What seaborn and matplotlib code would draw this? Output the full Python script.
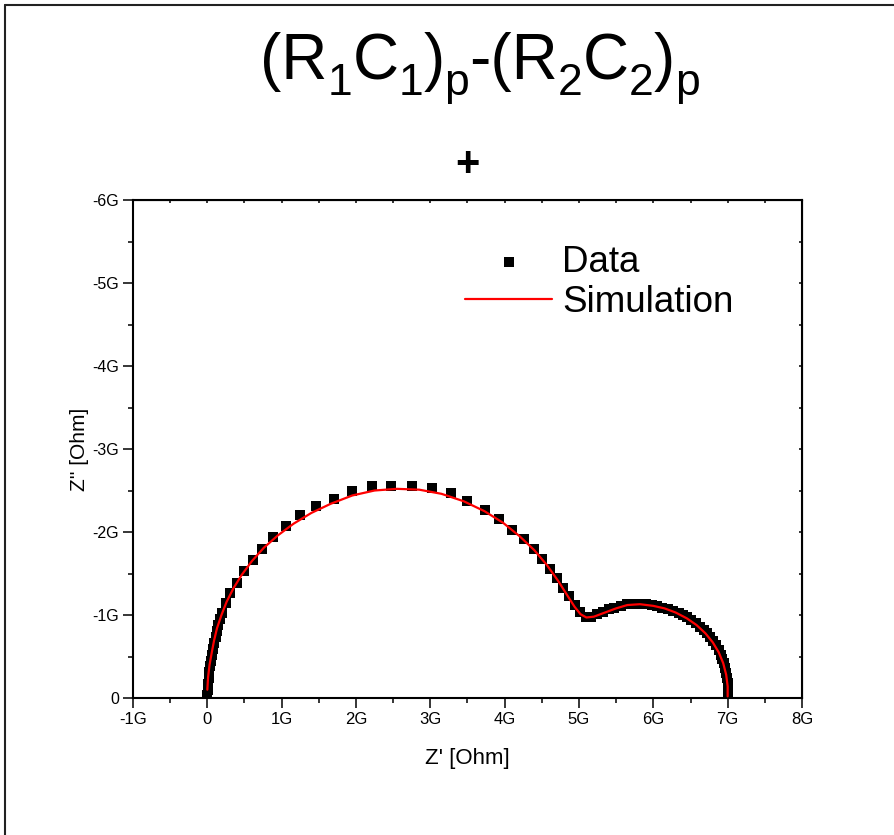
import numpy as np
import pandas as pd
import matplotlib.pyplot as plt
import matplotlib.ticker as mticker
from matplotlib.lines import Line2D
import seaborn as sns

# measured points, Z' and Z'' in GOhm
data_re = [0.00, 0.005, 0.01, 0.02, 0.025, 0.035, 0.045, 0.06, 0.07, 0.09, 0.11, 0.13,
           0.15, 0.17, 0.20, 0.25, 0.31, 0.40, 0.50, 0.61, 0.73, 0.88, 1.06, 1.24, 1.46,
           1.70, 1.95, 2.22, 2.47, 2.755, 3.02, 3.28, 3.50, 3.73, 3.93, 4.10, 4.26, 4.39,
           4.50, 4.61, 4.70, 4.79, 4.86, 4.94, 5.02, 5.09, 5.16, 5.24, 5.32, 5.40, 5.47,
           5.56, 5.65, 5.74, 5.82, 5.90, 5.98, 6.05, 6.12, 6.20, 6.27, 6.34, 6.40, 6.45,
           6.51, 6.57, 6.63, 6.68, 6.72, 6.76, 6.80, 6.84, 6.88, 6.91, 6.93, 6.95, 6.97,
           6.98, 6.99, 7.00, 7.00, 7.01, 7.01]
data_im = [-0.04, -0.10, -0.17, -0.24, -0.31, -0.38, -0.45, -0.52, -0.59, -0.66, -0.74, -0.81,
           -0.88, -0.95, -1.03, -1.15, -1.27, -1.39, -1.53, -1.66, -1.80, -1.94, -2.07, -2.20, -2.31,
           -2.40, -2.49, -2.55, -2.56, -2.56, -2.53, -2.47, -2.37, -2.27, -2.16, -2.03, -1.91, -1.79,
           -1.67, -1.55, -1.44, -1.33, -1.23, -1.12, -1.04, -0.98, -0.98, -1.01, -1.04, -1.07, -1.09,
           -1.11, -1.13, -1.13, -1.13, -1.13, -1.12, -1.11, -1.09, -1.07, -1.05, -1.02, -1.00, -0.97,
           -0.94, -0.90, -0.86, -0.82, -0.78, -0.74, -0.69, -0.64, -0.58, -0.52, -0.47, -0.42, -0.36,
           -0.30, -0.24, -0.18, -0.12, -0.06, -0.02]

# fitted curve
sim_re = [0.00, 0.01, 0.03, 0.06, 0.09, 0.13, 0.19, 0.26, 0.35, 0.46, 0.60, 0.76, 0.95,
          1.16, 1.40, 1.66, 1.95, 2.25, 2.55, 2.85, 3.15, 3.45, 3.73, 3.98, 4.20, 4.40,
          4.57, 4.72, 4.84, 4.94, 5.02, 5.10, 5.20, 5.35, 5.50, 5.65, 5.82, 6.00, 6.15,
          6.30, 6.45, 6.58, 6.70, 6.80, 6.88, 6.94, 6.98, 7.00, 7.00]
sim_im = [-0.10, -0.25, -0.40, -0.55, -0.69, -0.84, -1.00, -1.16, -1.32, -1.48, -1.65, -1.81, -1.96,
          -2.10, -2.23, -2.34, -2.44, -2.50, -2.52, -2.51, -2.46, -2.37, -2.25, -2.11, -1.95, -1.78,
          -1.60, -1.41, -1.24, -1.10, -1.01, -0.97, -0.98, -1.03, -1.08, -1.12, -1.13, -1.11, -1.08,
          -1.03, -0.96, -0.88, -0.78, -0.67, -0.55, -0.42, -0.28, -0.14, -0.02]

# title pieces: (text, subscript?)
title_parts = [("(R", False), ("1", True), ("C", False), ("1", True), (")", False), ("p", True),
               ("-(R", False), ("2", True), ("C", False), ("2", True), (")", False), ("p", True)]

df = pd.DataFrame({'re': data_re, 'im': data_im})
sim = pd.DataFrame({'re': sim_re, 'im': sim_im})

sns.set_style("ticks")
plt.rcParams['font.family'] = ['Liberation Sans', 'DejaVu Sans']
for k in ['text.color', 'axes.labelcolor', 'xtick.color', 'ytick.color', 'axes.edgecolor']:
    plt.rcParams[k] = 'black'

W, H = 895, 835
fig = plt.figure(figsize=(W/100, H/100), dpi=100)
ax = fig.add_axes([133/W, 1-698/H, 669/W, 498/H])

sns.scatterplot(data=df, x='re', y='im', marker='s', color='black', s=52,
                linewidth=0, label='Data', ax=ax, zorder=2)
sns.lineplot(data=sim, x='re', y='im', sort=False, estimator=None, color='red',
             linewidth=1.6, label='Simulation', ax=ax, zorder=3)

ax.set_xlim(-1, 8)
ax.set_ylim(0, -6)
ax.xaxis.set_major_locator(mticker.MultipleLocator(1))
ax.xaxis.set_minor_locator(mticker.MultipleLocator(0.5))
ax.yaxis.set_major_locator(mticker.MultipleLocator(1))
ax.yaxis.set_minor_locator(mticker.MultipleLocator(0.5))
fmt = mticker.FuncFormatter(lambda v, p: '0' if abs(v) < 1e-9 else f'{int(round(v))}G')
ax.xaxis.set_major_formatter(fmt)
ax.yaxis.set_major_formatter(fmt)
ax.tick_params(which='major', direction='out', length=7, width=1.1, labelsize=12, pad=3)
ax.tick_params(axis='y', which='major', labelsize=11.5)
ax.tick_params(which='minor', direction='out', length=3.6, width=1.1)
for s in ax.spines.values():
    s.set_linewidth(1.5)

# small inward ticks on top and right
secx = ax.secondary_xaxis('top')
secx.xaxis.set_major_locator(mticker.MultipleLocator(0.5))
secx.tick_params(direction='in', length=2.5, width=1.1, labeltop=False)
secy = ax.secondary_yaxis('right')
secy.yaxis.set_major_locator(mticker.MultipleLocator(0.5))
secy.tick_params(direction='in', length=2.5, width=1.1, labelright=False)

ax.set_xlabel("Z' [Ohm]", fontsize=16)
ax.set_ylabel("Z'' [Ohm]", fontsize=15)
ax.xaxis.set_label_coords(0.5, (698 - 748) / 498)
ax.yaxis.set_label_coords((89 - 133) / 669, 0.5)

ax.legend(loc='upper left', bbox_to_anchor=(0.475, 0.94), frameon=False, fontsize=26.5,
          handlelength=2.35, handletextpad=0.28, labelspacing=0.15, borderaxespad=0)

# title with real subscripts, laid out piece by piece
renderer = fig.canvas.get_renderer()
main_fs, sub_fs, drop = 46, 32, 16
base_y = 79
pieces = []
total = 0
for txt, sub in title_parts:
    t = fig.text(0, 0, txt, fontsize=sub_fs if sub else main_fs, va='baseline', ha='left')
    w = t.get_window_extent(renderer).width
    pieces.append((t, w, sub))
    total += w
x = 480 - total / 2
for t, w, sub in pieces:
    y = base_y + (drop if sub else 0)
    t.set_position((x / W, 1 - y / H))
    x += w

fig.text(467/W, 1-165/H, '+', ha='center', va='center', fontsize=30, fontweight='bold')

# outer frame (left and top edges)
fig.add_artist(Line2D([5/W, 5/W], [0, 1-5/H], transform=fig.transFigure, color='#222222', lw=1.5))
fig.add_artist(Line2D([5/W, 1], [1-5/H, 1-5/H], transform=fig.transFigure, color='#222222', lw=1.5))

fig.savefig('out.png', dpi=100)
